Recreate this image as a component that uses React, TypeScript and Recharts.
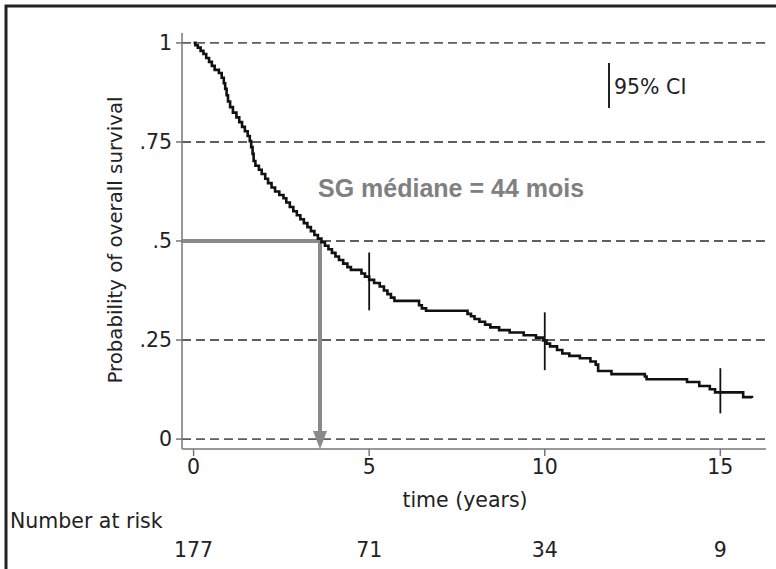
import React from 'react';
import {
  ComposedChart, Line, XAxis, YAxis, ReferenceLine, Scatter,
} from 'recharts';

// Kaplan-Meier estimate (time in years, survival probability)
const kmTimes = [
  0, 0.05, 0.12, 0.2, 0.28, 0.36, 0.44, 0.52, 0.6, 0.72, 0.8, 0.86, 0.9, 0.94, 0.98,
  1.04, 1.12, 1.22, 1.3, 1.38, 1.46, 1.54, 1.6, 1.64, 1.68, 1.71, 1.76, 1.86, 1.94,
  2.04, 2.12, 2.22, 2.32, 2.44, 2.56, 2.64, 2.74, 2.84, 2.94, 3.04, 3.14, 3.24, 3.34,
  3.44, 3.54, 3.64, 3.74, 3.84, 3.94, 4.04, 4.14, 4.26, 4.38, 4.48, 4.78, 4.88, 5.0,
  5.14, 5.3, 5.42, 5.52, 5.62, 5.72, 6.42, 6.5, 6.62, 7.8, 7.9, 8.0, 8.14, 8.3, 8.45,
  8.7, 9.0, 9.4, 9.75, 9.95, 10.05, 10.15, 10.35, 10.5, 10.7, 11.0, 11.3, 11.45, 11.52,
  11.9, 12.85, 12.9, 14.05, 14.4, 14.7, 14.85, 15.65, 15.9,
];
const kmSurvival = [
  1, 0.994, 0.988, 0.98, 0.972, 0.962, 0.952, 0.942, 0.932, 0.924, 0.912, 0.898, 0.884,
  0.868, 0.852, 0.838, 0.824, 0.812, 0.8, 0.788, 0.777, 0.765, 0.752, 0.737, 0.72, 0.702,
  0.69, 0.68, 0.669, 0.657, 0.646, 0.635, 0.625, 0.616, 0.608, 0.597, 0.586, 0.575, 0.565,
  0.555, 0.545, 0.535, 0.525, 0.515, 0.506, 0.497, 0.488, 0.479, 0.47, 0.461, 0.452, 0.443,
  0.434, 0.427, 0.418, 0.41, 0.402, 0.394, 0.385, 0.375, 0.366, 0.357, 0.349, 0.338, 0.33,
  0.324, 0.316, 0.31, 0.303, 0.296, 0.289, 0.282, 0.275, 0.269, 0.262, 0.256, 0.249, 0.241,
  0.234, 0.225, 0.216, 0.21, 0.204, 0.196, 0.188, 0.172, 0.164, 0.158, 0.151, 0.144, 0.134,
  0.126, 0.118, 0.106, 0.104,
];

// 95% confidence intervals shown at selected times
const ciTimes = [5, 10, 15];
const ciLower = [0.325, 0.174, 0.065];
const ciUpper = [0.471, 0.32, 0.179];

// Median survival
const medianTime = 3.6;
const medianSurvival = 0.5;

// Axes
const xTicks = [0, 5, 10, 15];
const yTicks = [0, 0.25, 0.5, 0.75, 1];
const yTickLabels = ['0', '.25', '.5', '.75', '1'];
const riskTimes = [0, 5, 10, 15];
const riskCounts = [177, 71, 34, 9];

const X_DOMAIN: [number, number] = [-0.33, 16.3];
const Y_DOMAIN: [number, number] = [-0.025, 1.025];

const kmData = kmTimes.map((t, i) => ({ t, s: kmSurvival[i] }));
const arrowData = [{ t: medianTime, s: 0 }];

const FONT = '"DejaVu Sans", Verdana, sans-serif';
const FS = 20.5;
const tickStyle = { fontFamily: FONT, fontSize: FS, fill: '#222' };

const ArrowHead = (props: any) => {
  const { cx, cy } = props;
  if (cx == null || cy == null) return null;
  return (
    <path
      d={`M ${cx - 7} ${cy - 8} L ${cx + 7} ${cy - 8} L ${cx} ${cy + 10} Z`}
      fill="#8a8a8a"
    />
  );
};

export default function App() {
  return (
    <div style={{ position: 'absolute', left: 0, top: 0, width: 776, height: 569, background: '#fff' }}>
      <ComposedChart
        width={776}
        height={569}
        data={kmData}
        margin={{ top: 33, right: 10, left: 0, bottom: 0 }}
      >
        <XAxis
          dataKey="t"
          type="number"
          domain={X_DOMAIN}
          allowDataOverflow
          ticks={xTicks}
          height={60}
          tickSize={7}
          tickMargin={3}
          tick={tickStyle}
          stroke="#777"
          strokeWidth={1.5}
          interval={0}
        />
        <XAxis
          xAxisId="risk"
          dataKey="t"
          type="number"
          domain={X_DOMAIN}
          allowDataOverflow
          ticks={riskTimes}
          height={60}
          tickSize={0}
          tickLine={false}
          axisLine={false}
          tickMargin={33}
          tick={tickStyle}
          interval={0}
          tickFormatter={(v: number) => {
            const i = riskTimes.indexOf(v);
            return i >= 0 ? String(riskCounts[i]) : '';
          }}
        />
        <YAxis
          type="number"
          domain={Y_DOMAIN}
          allowDataOverflow
          ticks={yTicks}
          width={182}
          tickSize={6}
          tickMargin={4}
          tick={tickStyle}
          stroke="#777"
          strokeWidth={1.5}
          interval={0}
          tickFormatter={(v: number) => {
            const i = yTicks.indexOf(v);
            return i >= 0 ? yTickLabels[i] : '';
          }}
        />
        {yTicks.map((v) => (
          <ReferenceLine
            key={`grid-${v}`}
            y={v}
            stroke="#5e5e5e"
            strokeWidth={1.9}
            strokeDasharray="9 5"
          />
        ))}
        <ReferenceLine
          segment={[{ x: X_DOMAIN[0], y: medianSurvival }, { x: medianTime, y: medianSurvival }]}
          stroke="#8a8a8a"
          strokeWidth={4}
        />
        <ReferenceLine
          segment={[{ x: medianTime, y: medianSurvival }, { x: medianTime, y: 0.02 }]}
          stroke="#8a8a8a"
          strokeWidth={4}
        />
        <Scatter data={arrowData} dataKey="s" shape={ArrowHead} isAnimationActive={false} />
        {ciTimes.map((t, i) => (
          <ReferenceLine
            key={`ci-${t}`}
            segment={[{ x: t, y: ciLower[i] }, { x: t, y: ciUpper[i] }]}
            stroke="#111"
            strokeWidth={1.8}
          />
        ))}
        <Line
          type="stepAfter"
          dataKey="s"
          stroke="#111"
          strokeWidth={2.6}
          dot={false}
          activeDot={false}
          isAnimationActive={false}
        />
      </ComposedChart>
      <svg
        width={776}
        height={569}
        style={{ position: 'absolute', left: 0, top: 0, pointerEvents: 'none' }}
      >
        <rect x={6} y={6} width={800} height={600} fill="none" stroke="#222" strokeWidth={3} />
        <text
          transform="translate(115,240) rotate(-90)"
          textAnchor="middle"
          dominantBaseline="central"
          fontFamily={FONT}
          fontSize={19.8}
          fill="#222"
        >
          Probability of overall survival
        </text>
        <text x={465} y={507} textAnchor="middle" fontFamily={FONT} fontSize={FS} fill="#222">
          time (years)
        </text>
        <text x={10} y={528} fontFamily={FONT} fontSize={FS} fill="#222">
          Number at risk
        </text>
        <line x1={609} y1={63} x2={609} y2={108} stroke="#222" strokeWidth={2} />
        <text x={614} y={94} fontFamily={FONT} fontSize={FS} fill="#222">
          95% CI
        </text>
        <text
          x={318}
          y={197}
          fontFamily='"Liberation Sans", Arial, sans-serif'
          fontWeight="bold"
          fontSize={25}
          fill="#808080"
        >
          SG médiane = 44 mois
        </text>
      </svg>
    </div>
  );
}
